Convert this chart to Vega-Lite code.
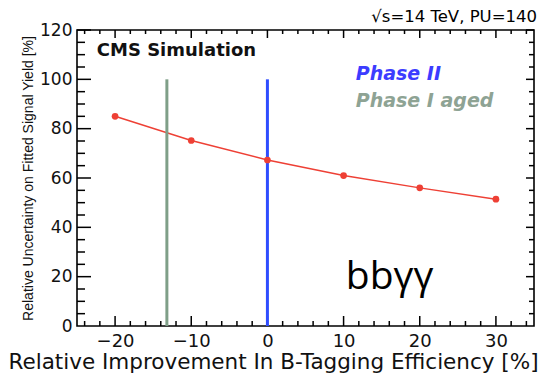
{
  "$schema": "https://vega.github.io/schema/vega-lite/v6.json",
  "width": 457,
  "height": 296,
  "autosize": "none",
  "padding": {"left": 77, "top": 30, "right": 6, "bottom": 48},
  "background": "white",
  "config": {
    "font": "DejaVu Sans",
    "view": {"stroke": "black", "strokeWidth": 1.6},
    "axis": {"domain": false, "grid": false, "ticks": false, "labelFlush": false}
  },
  "title": {
    "text": "√s=14 TeV, PU=140",
    "anchor": "end",
    "frame": "group",
    "fontSize": 16.5,
    "fontWeight": "normal",
    "color": "black",
    "offset": -4,
    "dx": 3
  },
  "datasets": {
    "yield": [
      {"improvement": -20, "uncertainty": 85.0},
      {"improvement": -10, "uncertainty": 75.2},
      {"improvement": 0, "uncertainty": 67.3},
      {"improvement": 10, "uncertainty": 61.0},
      {"improvement": 20, "uncertainty": 56.0},
      {"improvement": 30, "uncertainty": 51.4}
    ],
    "phases": [
      {"phase": "Phase II", "improvement": 0, "bottom": 0, "top": 100},
      {"phase": "Phase I aged", "improvement": -13.2, "bottom": 0, "top": 100}
    ],
    "xticks": [
      {"v": -24, "kind": "minor"}, {"v": -22, "kind": "minor"}, {"v": -20, "kind": "major"}, {"v": -18, "kind": "minor"},
      {"v": -16, "kind": "minor"}, {"v": -14, "kind": "minor"}, {"v": -12, "kind": "minor"}, {"v": -10, "kind": "major"},
      {"v": -8, "kind": "minor"}, {"v": -6, "kind": "minor"}, {"v": -4, "kind": "minor"}, {"v": -2, "kind": "minor"},
      {"v": 0, "kind": "major"}, {"v": 2, "kind": "minor"}, {"v": 4, "kind": "minor"}, {"v": 6, "kind": "minor"},
      {"v": 8, "kind": "minor"}, {"v": 10, "kind": "major"}, {"v": 12, "kind": "minor"}, {"v": 14, "kind": "minor"},
      {"v": 16, "kind": "minor"}, {"v": 18, "kind": "minor"}, {"v": 20, "kind": "major"}, {"v": 22, "kind": "minor"},
      {"v": 24, "kind": "minor"}, {"v": 26, "kind": "minor"}, {"v": 28, "kind": "minor"}, {"v": 30, "kind": "major"},
      {"v": 32, "kind": "minor"}, {"v": 34, "kind": "minor"}
    ],
    "yticks": [
      {"v": 5, "kind": "minor"}, {"v": 10, "kind": "minor"}, {"v": 15, "kind": "minor"}, {"v": 20, "kind": "major"},
      {"v": 25, "kind": "minor"}, {"v": 30, "kind": "minor"}, {"v": 35, "kind": "minor"}, {"v": 40, "kind": "major"},
      {"v": 45, "kind": "minor"}, {"v": 50, "kind": "minor"}, {"v": 55, "kind": "minor"}, {"v": 60, "kind": "major"},
      {"v": 65, "kind": "minor"}, {"v": 70, "kind": "minor"}, {"v": 75, "kind": "minor"}, {"v": 80, "kind": "major"},
      {"v": 85, "kind": "minor"}, {"v": 90, "kind": "minor"}, {"v": 95, "kind": "minor"}, {"v": 100, "kind": "major"},
      {"v": 105, "kind": "minor"}, {"v": 110, "kind": "minor"}, {"v": 115, "kind": "minor"}, {"v": 120, "kind": "major"}
    ],
    "one": [{}]
  },
  "resolve": {"axis": {"x": "independent", "y": "independent"}},
  "layer": [
    {
      "data": {"name": "yield"},
      "mark": {"type": "line", "color": "#ee4035", "strokeWidth": 1.5},
      "encoding": {
        "x": {
          "field": "improvement",
          "type": "quantitative",
          "scale": {"domain": [-25, 35], "nice": false},
          "axis": {
            "orient": "bottom",
            "title": "Relative Improvement In B-Tagging Efficiency [%]",
            "titleFontSize": 21.5,
            "titleFontWeight": "normal",
            "titleColor": "#111",
            "titlePadding": 1,
            "titleX": 196,
            "titleAlign": "center",
            "values": [-20, -10, 0, 10, 20, 30],
            "labelFontSize": 18,
            "labelColor": "#111",
            "labelPadding": 6
          }
        },
        "y": {
          "field": "uncertainty",
          "type": "quantitative",
          "scale": {"domain": [0, 120], "nice": false},
          "axis": {
            "orient": "left",
            "title": "Relative Uncertainty on Fitted Signal Yield [%]",
            "titleFont": "Liberation Sans",
            "titleFontSize": 14,
            "titleFontWeight": "normal",
            "titleColor": "#111",
            "titlePadding": 4,
            "values": [0, 20, 40, 60, 80, 100, 120],
            "labelFontSize": 17,
            "labelColor": "#111",
            "labelPadding": 5
          }
        }
      }
    },
    {
      "data": {"name": "xticks"},
      "transform": [{"filter": "datum.kind === 'major'"}],
      "mark": {"type": "rule", "color": "black", "strokeWidth": 1.5},
      "encoding": {
        "x": {"field": "v", "type": "quantitative", "scale": {"domain": [-25, 35], "nice": false}, "axis": null},
        "y": {"datum": 0, "type": "quantitative", "scale": {"domain": [0, 120], "nice": false}, "axis": null},
        "y2": {"datum": 4.05}
      }
    },
    {
      "data": {"name": "xticks"},
      "transform": [{"filter": "datum.kind === 'minor'"}],
      "mark": {"type": "rule", "color": "black", "strokeWidth": 1.5},
      "encoding": {
        "x": {"field": "v", "type": "quantitative", "scale": {"domain": [-25, 35], "nice": false}, "axis": null},
        "y": {"datum": 0, "type": "quantitative", "scale": {"domain": [0, 120], "nice": false}, "axis": null},
        "y2": {"datum": 2.03}
      }
    },
    {
      "data": {"name": "xticks"},
      "transform": [{"filter": "datum.kind === 'major'"}],
      "mark": {"type": "rule", "color": "black", "strokeWidth": 1.5},
      "encoding": {
        "x": {"field": "v", "type": "quantitative", "scale": {"domain": [-25, 35], "nice": false}, "axis": null},
        "y": {"datum": 120, "type": "quantitative", "scale": {"domain": [0, 120], "nice": false}, "axis": null},
        "y2": {"datum": 116.76}
      }
    },
    {
      "data": {"name": "xticks"},
      "transform": [{"filter": "datum.kind === 'minor'"}],
      "mark": {"type": "rule", "color": "black", "strokeWidth": 1.5},
      "encoding": {
        "x": {"field": "v", "type": "quantitative", "scale": {"domain": [-25, 35], "nice": false}, "axis": null},
        "y": {"datum": 120, "type": "quantitative", "scale": {"domain": [0, 120], "nice": false}, "axis": null},
        "y2": {"datum": 118.38}
      }
    },
    {
      "data": {"name": "yticks"},
      "transform": [{"filter": "datum.kind === 'major'"}],
      "mark": {"type": "rule", "color": "black", "strokeWidth": 1.5},
      "encoding": {
        "y": {"field": "v", "type": "quantitative", "scale": {"domain": [0, 120], "nice": false}, "axis": null},
        "x": {"datum": -25, "type": "quantitative", "scale": {"domain": [-25, 35], "nice": false}, "axis": null},
        "x2": {"datum": -23.16}
      }
    },
    {
      "data": {"name": "yticks"},
      "transform": [{"filter": "datum.kind === 'minor'"}],
      "mark": {"type": "rule", "color": "black", "strokeWidth": 1.5},
      "encoding": {
        "y": {"field": "v", "type": "quantitative", "scale": {"domain": [0, 120], "nice": false}, "axis": null},
        "x": {"datum": -25, "type": "quantitative", "scale": {"domain": [-25, 35], "nice": false}, "axis": null},
        "x2": {"datum": -23.95}
      }
    },
    {
      "data": {"name": "yticks"},
      "transform": [{"filter": "datum.kind === 'major'"}],
      "mark": {"type": "rule", "color": "black", "strokeWidth": 1.5},
      "encoding": {
        "y": {"field": "v", "type": "quantitative", "scale": {"domain": [0, 120], "nice": false}, "axis": null},
        "x": {"datum": 35, "type": "quantitative", "scale": {"domain": [-25, 35], "nice": false}, "axis": null},
        "x2": {"datum": 33.95}
      }
    },
    {
      "data": {"name": "yticks"},
      "transform": [{"filter": "datum.kind === 'minor'"}],
      "mark": {"type": "rule", "color": "black", "strokeWidth": 1.5},
      "encoding": {
        "y": {"field": "v", "type": "quantitative", "scale": {"domain": [0, 120], "nice": false}, "axis": null},
        "x": {"datum": 35, "type": "quantitative", "scale": {"domain": [-25, 35], "nice": false}, "axis": null},
        "x2": {"datum": 34.34}
      }
    },
    {
      "data": {"name": "phases"},
      "mark": {"type": "rule", "strokeWidth": 3},
      "encoding": {
        "x": {"field": "improvement", "type": "quantitative", "scale": {"domain": [-25, 35], "nice": false}, "axis": null},
        "y": {"field": "bottom", "type": "quantitative", "scale": {"domain": [0, 120], "nice": false}, "axis": null},
        "y2": {"field": "top"},
        "color": {
          "field": "phase",
          "type": "nominal",
          "scale": {"domain": ["Phase II", "Phase I aged"], "range": ["#2f4dff", "#7f9f88"]},
          "legend": null
        }
      }
    },
    {
      "data": {"name": "yield"},
      "mark": {"type": "point", "filled": true, "opacity": 1, "color": "#ee4035", "size": 45},
      "encoding": {
        "x": {"field": "improvement", "type": "quantitative", "scale": {"domain": [-25, 35], "nice": false}, "axis": null},
        "y": {"field": "uncertainty", "type": "quantitative", "scale": {"domain": [0, 120], "nice": false}, "axis": null}
      }
    },
    {
      "data": {"name": "one"},
      "mark": {"type": "text", "text": "CMS Simulation", "align": "left", "baseline": "alphabetic", "fontSize": 18, "fontWeight": "bold", "color": "#111"},
      "encoding": {
        "x": {"datum": -22.4, "type": "quantitative", "scale": {"domain": [-25, 35], "nice": false}, "axis": null},
        "y": {"datum": 109.5, "type": "quantitative", "scale": {"domain": [0, 120], "nice": false}, "axis": null}
      }
    },
    {
      "data": {"name": "one"},
      "mark": {"type": "text", "text": "Phase II", "align": "left", "baseline": "alphabetic", "fontSize": 19, "fontWeight": "bold", "fontStyle": "italic", "color": "#3c3cff"},
      "encoding": {
        "x": {"datum": 11.6, "type": "quantitative", "scale": {"domain": [-25, 35], "nice": false}, "axis": null},
        "y": {"datum": 99.8, "type": "quantitative", "scale": {"domain": [0, 120], "nice": false}, "axis": null}
      }
    },
    {
      "data": {"name": "one"},
      "mark": {"type": "text", "text": "Phase I aged", "align": "left", "baseline": "alphabetic", "fontSize": 19, "fontWeight": "bold", "fontStyle": "italic", "color": "#8ea394"},
      "encoding": {
        "x": {"datum": 11.6, "type": "quantitative", "scale": {"domain": [-25, 35], "nice": false}, "axis": null},
        "y": {"datum": 88.6, "type": "quantitative", "scale": {"domain": [0, 120], "nice": false}, "axis": null}
      }
    },
    {
      "data": {"name": "one"},
      "mark": {"type": "text", "text": "bbγγ", "align": "left", "baseline": "alphabetic", "fontSize": 39, "font": "Open Sans", "color": "black"},
      "encoding": {
        "x": {"datum": 10.3, "type": "quantitative", "scale": {"domain": [-25, 35], "nice": false}, "axis": null},
        "y": {"datum": 14.9, "type": "quantitative", "scale": {"domain": [0, 120], "nice": false}, "axis": null}
      }
    }
  ]
}
